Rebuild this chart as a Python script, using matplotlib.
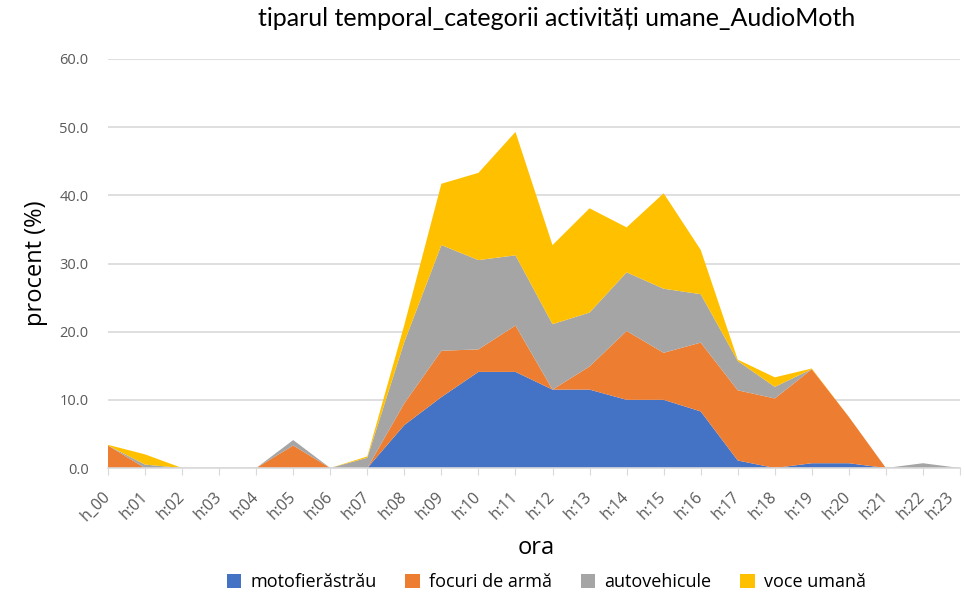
import matplotlib
matplotlib.use("Agg")
import matplotlib.pyplot as plt
import matplotlib.transforms as mtransforms
import numpy as np

hours = ["h_00"] + ["h:%02d" % i for i in range(1, 24)]
motofierastrau = [0, 0, 0, 0, 0, 0, 0, 0, 6.3, 10.4, 14.1, 14.1, 11.5, 11.5, 10.0, 10.0, 8.3, 1.1, 0, 0.7, 0.7, 0, 0, 0]
focuri_de_arma = [3.3, 0, 0, 0, 0, 3.3, 0, 0, 3.2, 6.8, 3.3, 6.8, 0, 3.4, 10.1, 6.9, 10.1, 10.3, 10.2, 13.8, 6.8, 0, 0, 0]
autovehicule = [0, 0.5, 0, 0, 0, 0.8, 0, 1.5, 9.0, 15.5, 13.1, 10.3, 9.6, 7.9, 8.6, 9.4, 7.1, 4.3, 1.7, 0, 0, 0, 0.7, 0]
voce_umana = [0.1, 1.5, 0, 0, 0, 0, 0, 0.2, 2.5, 9.0, 12.8, 18.1, 11.6, 15.3, 6.6, 14.0, 6.5, 0.2, 1.4, 0.1, 0, 0, 0, 0]

series_names = ["motofierăstrău", "focuri de armă", "autovehicule", "voce umană"]
colors = ["#4472C4", "#ED7D31", "#A5A5A5", "#FFC000"]

plt.rcParams['font.family'] = ['Open Sans', 'DejaVu Sans']

fig = plt.figure(figsize=(9.65, 5.99), dpi=100)
ax = fig.add_axes([108/965, (599-468)/599, (960-108)/965, (468-59)/599])

x = np.arange(len(hours))
ax.stackplot(x, motofierastrau, focuri_de_arma, autovehicule, voce_umana,
             colors=colors, labels=series_names, linewidth=0, zorder=2)

ax.set_xlim(0, len(hours) - 1)
ax.set_ylim(0, 60)
ax.set_yticks(np.arange(0, 61, 10))
ax.set_yticklabels(["%.1f" % v for v in np.arange(0, 61, 10)], color="#595959", fontsize=10.5)
ax.yaxis.grid(True, color="#D9D9D9", linewidth=1.2, zorder=0)
ax.set_axisbelow(True)
ax.tick_params(axis='y', length=0, pad=14)

ax.set_xticks(x)
ax.set_xticklabels(hours, rotation=45, ha='right', va='center', rotation_mode='anchor',
                   color="#595959", fontsize=11.5)
ax.tick_params(axis='x', length=5, color="#D9D9D9", pad=14)
last = ax.get_xticklabels()[-1]
last.set_transform(last.get_transform() +
                   mtransforms.ScaledTranslation(-8/100, 0, fig.dpi_scale_trans))

for s in ['top', 'right', 'left']:
    ax.spines[s].set_visible(False)
ax.spines['bottom'].set_color("#D9D9D9")
ax.spines['bottom'].set_linewidth(1.2)

ax.set_ylabel("procent (%)", fontsize=17, color="black", labelpad=8)
fig.text(0.556, 1 - 548/599, "ora", ha='center', va='center', fontsize=17, color="black")
fig.text(0.577, 1 - 18/599, "tiparul temporal_categorii activități umane_AudioMoth",
         ha='center', va='center', fontsize=18, color="black", family=['Lato', 'DejaVu Sans'])

handles, labels = ax.get_legend_handles_labels()
fig.legend(handles, labels, loc='center', bbox_to_anchor=(0.566, 1 - 582/599), ncol=4,
           frameon=False, fontsize=13, handlelength=0.8, handleheight=0.8,
           columnspacing=1.6, handletextpad=0.5)

fig.savefig("out.png", dpi=100)
